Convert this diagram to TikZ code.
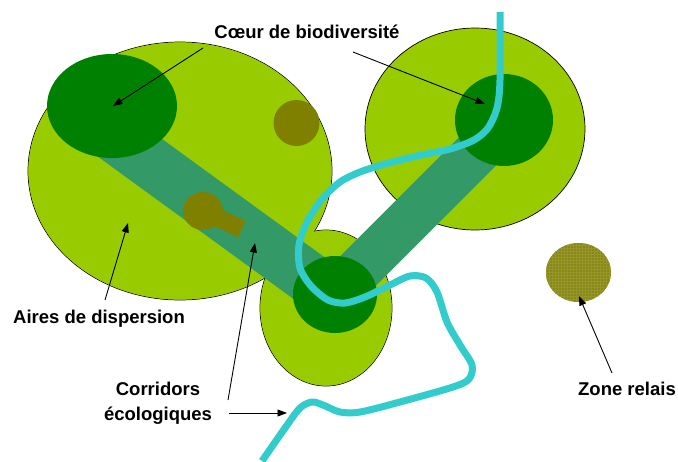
\documentclass[tikz,border=0pt]{standalone}
\usepackage{fontspec}
\setmainfont{Liberation Sans}
\usepackage{xcolor}
\usepackage{tikz}
\usetikzlibrary{arrows.meta,patterns}
\definecolor{vertclair}{HTML}{99CC00}
\definecolor{vertfonce}{HTML}{008000}
\definecolor{vertcorridor}{HTML}{339966}
\definecolor{brunrelais}{HTML}{808000}
\definecolor{olivezone}{HTML}{888812}
\definecolor{bleuriviere}{HTML}{33CCCC}

\begin{document}
\begin{tikzpicture}[
  x=1pt,y=-1pt,
  legende/.style={font=\bfseries\fontsize{18.5}{25}\selectfont,align=center,inner sep=0pt},
  arrow/.style={-{Triangle[length=9.5pt,width=7pt]},line width=0.9pt},
  aire/.style={fill=vertclair,draw=black,line width=0.7pt},
  corridor/.style={draw=vertcorridor,line cap=butt},
  riviere/.style={draw=bleuriviere,line width=7pt,line cap=butt,line join=round}
]
  \useasboundingbox (0,0) rectangle (678,461);
  \coordinate (noyauA) at (112,106);
  \coordinate (noyauB) at (504,120);
  \coordinate (noyauC) at (335,294.5);
  \coordinate (relaisC) at (578.5,272.5);
  \path[aire] (180,171) ellipse [x radius=152pt,y radius=129pt];
  \path[aire] (475,129) ellipse [x radius=110pt,y radius=101pt];
  \path[aire] (326,308) ellipse [x radius=66pt,y radius=78pt];
  \fill[vertclair] (180,171) ellipse [x radius=151.6pt,y radius=128.6pt];
  \fill[vertclair] (326,308) ellipse [x radius=65.6pt,y radius=77.6pt];
  \fill[brunrelais] (296.5,123) circle [radius=23pt];
  \draw[corridor,line width=52pt] (100,126) -- (335,297);
  \draw[corridor,line width=46pt] (335,294) -- (500,129);
  \fill[brunrelais] (203,211) ellipse [x radius=20pt,y radius=19pt];
  \draw[brunrelais,line width=18pt] (203,211) -- (242,229);
  \fill[vertfonce] (noyauA) ellipse [x radius=65pt,y radius=52pt];
  \fill[vertfonce] (noyauB) ellipse [x radius=49pt,y radius=46pt];
  \fill[vertfonce] (noyauC) ellipse [x radius=42pt,y radius=38.5pt];
  \draw[riviere] plot[smooth,tension=0.5] coordinates {(500,12) (500,80) (497,108) (488,128) (474,140) (450,149) (417,156) (385,164) (360,172) (340,182) (322,199) (307,222) (299,245) (300,268) (311,286) (328,300) (345,303) (365,297) (390,285) (410,276) (426,278) (437,292) (447,322) (460,345) (472,365) (469,379) (453,387) (400,402) (360,412) (340,412) (323,405) (312,402) (300,408) (285,428) (262,461)};
  \fill[olivezone] (relaisC) ellipse [x radius=32.5pt,y radius=29.5pt];
  \fill[pattern=grid,pattern color=olivezone!88!white] (relaisC) ellipse [x radius=32.5pt,y radius=29.5pt];
  \node[legende,anchor=base] (coeur) at (307,38) {Cœur de biodiversité};
  \node[legende,anchor=base] (aires) at (99,323) {Aires de dispersion};
  \node[legende,anchor=north] (corridors) at (158,381.5) {Corridors\\écologiques};
  \node[legende,anchor=base] (relais) at (627,395) {Zone relais};
  \coordinate (c1) at (203,48);
  \coordinate (c2) at (353,52);
  \draw[arrow] (c1) -- ([xshift=1pt]noyauA);
  \draw[arrow] (c2) -- (485,104);
  \draw[arrow] (105,300) -- (128,223);
  \draw[arrow] (228,400) -- (255,243);
  \draw[arrow] (229,413) -- (287,413);
  \draw[arrow] (612,373) -- (579,296);
\end{tikzpicture}
\end{document}
